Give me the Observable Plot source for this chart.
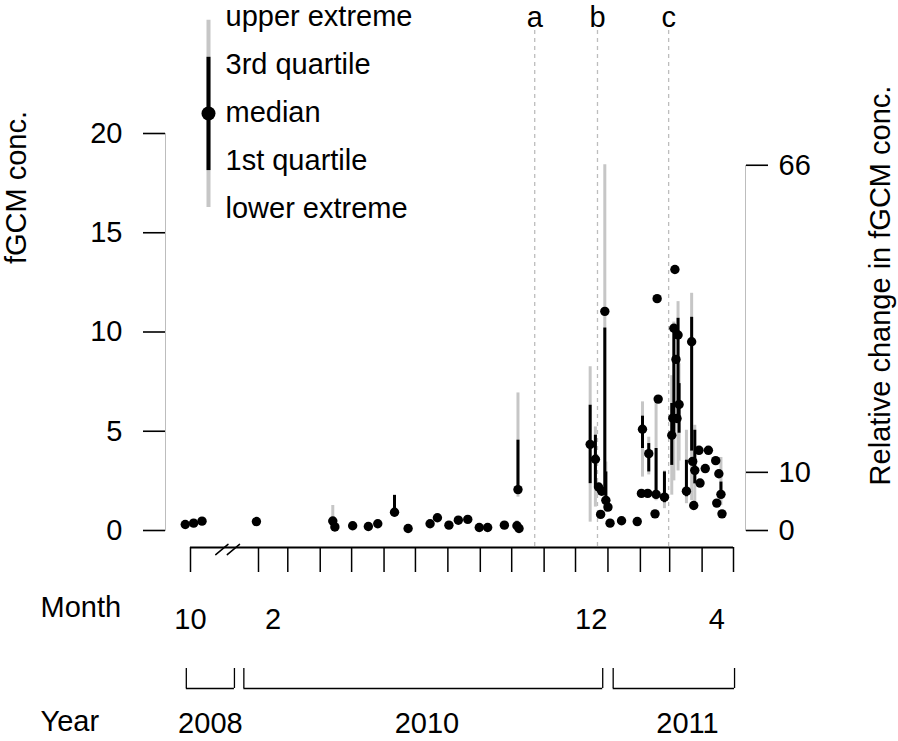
<!DOCTYPE html>
<html>
<head>
<meta charset="utf-8">
<script src="https://cdn.jsdelivr.net/npm/d3@7"></script>
<script src="https://cdn.jsdelivr.net/npm/@observablehq/plot@0.6"></script>
<style>
  html, body { margin: 0; padding: 0; background: #fff; }
  #wrap { position: relative; width: 898px; height: 741px; }
  #legend { position: absolute; left: 190px; top: 0px; }
  svg { font-family: "Liberation Sans", Arial, Helvetica, sans-serif; }
</style>
</head>
<body>
<div id="wrap"><div id="main"></div><div id="legend"></div></div>
<script>
// ---------- data ----------
const sampleDates = [
  "2008-10-10","2008-10-18","2008-10-26","2010-01-30","2010-04-13","2010-04-15","2010-05-02","2010-05-17",
  "2010-05-26","2010-06-11","2010-06-24","2010-07-15","2010-07-22","2010-08-02","2010-08-11","2010-08-20",
  "2010-08-31","2010-09-08","2010-09-24","2010-10-06","2010-10-07","2010-10-08","2010-12-15","2010-12-20",
  "2010-12-23","2010-12-25","2010-12-26","2010-12-29","2010-12-30","2011-01-01","2011-01-03","2011-01-14",
  "2011-01-29","2011-02-02","2011-02-03","2011-02-08","2011-02-09","2011-02-15","2011-02-16","2011-02-17",
  "2011-02-18","2011-02-24","2011-03-03","2011-03-04","2011-03-05","2011-03-06","2011-03-07","2011-03-08",
  "2011-03-09","2011-03-10","2011-03-17","2011-03-22","2011-03-23","2011-03-24","2011-03-25","2011-03-29",
  "2011-03-30","2011-04-04","2011-04-07","2011-04-14","2011-04-15","2011-04-17","2011-04-19","2011-04-20"
];
const medians = [
  0.30,0.37,0.47,0.45,0.48,0.18,0.24,0.20,
  0.34,0.92,0.10,0.34,0.64,0.27,0.52,0.56,
  0.15,0.15,0.27,0.24,2.06,0.10,4.34,3.59,
  2.19,0.81,1.98,11.04,1.52,1.18,0.37,0.49,
  0.45,1.87,5.10,1.87,3.87,0.84,1.82,11.68,
  6.62,1.68,4.80,5.66,10.19,13.15,8.62,5.64,
  9.85,6.35,1.98,9.51,3.48,1.26,3.03,4.04,
  2.39,3.12,4.04,3.52,1.38,2.86,1.82,0.84
];
const firstQuartiles = [
  null,null,null,null,null,null,null,null,
  null,0.80,null,null,null,null,null,null,
  null,null,null,null,1.90,null,2.36,2.19,
  null,null,null,1.85,1.20,null,null,null,
  null,null,4.13,null,2.95,null,1.60,null,
  null,1.40,3.28,null,4.90,null,null,null,
  5.50,4.90,1.70,4.00,null,null,2.35,null,
  null,null,null,null,null,null,1.77,null
];
const thirdQuartiles = [
  null,null,null,null,null,null,null,null,
  null,1.77,null,null,null,null,null,null,
  null,null,null,null,4.55,null,6.31,4.80,
  null,null,null,10.20,2.95,null,null,null,
  null,null,5.76,null,4.38,null,4.13,null,
  null,2.95,6.40,null,10.19,null,null,null,
  10.69,7.40,3.54,10.74,null,null,5.05,null,
  null,null,null,null,null,null,2.44,null
];
const lowerExtremes = [
  null,null,null,null,null,null,null,null,
  null,0.67,null,null,null,null,null,null,
  null,null,null,null,1.68,null,0.42,1.18,
  null,null,null,1.30,0.90,null,null,null,
  null,null,2.69,null,2.80,null,1.50,null,
  null,1.10,1.78,null,2.50,null,null,null,
  3.00,3.50,1.35,1.50,null,null,1.30,null,
  null,null,null,null,null,null,1.25,null
];
const upperExtremes = [
  null,null,null,null,1.26,null,null,null,
  null,1.77,null,null,null,null,null,null,
  null,null,null,0.50,6.93,null,8.25,5.22,
  null,null,null,18.43,3.45,null,null,null,
  null,null,6.48,null,4.70,null,6.48,null,
  null,3.00,7.80,null,10.50,null,null,null,
  11.53,8.40,5.05,11.95,null,null,5.30,null,
  null,null,null,null,null,null,3.68,null
];

const leftTicks = [0, 5, 10, 15, 20];
const rightTickLabels = [0, 10, 66];
const rightTickConc = [0, 2.93, 18.4];     // where those labels sit on the fGCM scale

const eventLabels = ["a", "b", "c"];
const eventDates = ["2010-10-23", "2010-12-22", "2011-02-28"];

const monthTickDates = ["2008-10-15","2010-02-01","2010-03-01","2010-04-01","2010-05-01","2010-06-01","2010-07-01",
  "2010-08-01","2010-09-01","2010-10-01","2010-11-01","2010-12-01","2011-01-01","2011-02-01","2011-03-01",
  "2011-04-01","2011-05-01"];
const monthLabelTexts = ["10", "2", "12", "4"];
const monthLabelDates = ["2008-10-15", "2010-02-15", "2010-12-16", "2011-04-15"];
const breakMarkDates = ["2008-11-14", "2008-11-25"];

const yearNames = ["2008", "2010", "2011"];
const yearStarts = ["2008-10-11", "2010-01-18", "2011-01-06"];
const yearEnds = ["2008-11-26", "2010-12-27", "2011-05-02"];
const yearLabelDates = ["2008-11-03", "2010-07-12", "2011-03-18"];

const legendLabels = ["upper extreme", "3rd quartile", "median", "1st quartile", "lower extreme"];

// ---------- axis position (2008 segment joined to 2010 with a break) ----------
function pos(s) {
  const t = Date.parse(s + "T00:00:00Z");
  if (t < Date.UTC(2009, 5, 1)) return (t - Date.UTC(2008, 9, 15)) / 864e5 - 65;
  return (t - Date.UTC(2010, 1, 1)) / 864e5;
}

const rows = sampleDates.map((d, i) => ({
  x: pos(d), med: medians[i], q1: firstQuartiles[i], q3: thirdQuartiles[i],
  lo: lowerExtremes[i], hi: upperExtremes[i]
}));
const extRows = rows.filter(r => r.hi != null || r.lo != null);
const iqrRows = rows.filter(r => r.q1 != null && r.q3 != null);

const rightMap = new Map(rightTickConc.map((c, i) => [c, String(rightTickLabels[i])]));
const grayWhisker = "#c6c6c6";
const lineGray = "#bdbdbd";
const font = "'Liberation Sans', Arial, Helvetica, sans-serif";
const fs = "29px";

const slash = {draw(ctx, l) { ctx.moveTo(0, 0); ctx.lineTo(0, -l); }};
const mid = {textAnchor: "middle", lineAnchor: "middle"};

const chart = Plot.plot({
  width: 898, height: 741,
  marginTop: 133, marginBottom: 211, marginLeft: 165, marginRight: 153,
  style: {fontSize: fs, fontFamily: font, color: "#000", background: "#fff"},
  x: {type: "linear", domain: [0, 454], range: [258, 733]},
  y: {domain: [0, 20]},
  marks: [
    // axis lines
    Plot.frame({anchor: "left", stroke: lineGray}),
    Plot.frame({anchor: "right", stroke: lineGray, insetTop: 32}),
    Plot.axisY({anchor: "left", ticks: leftTicks, tickSize: 22, tickPadding: 21, strokeWidth: 1.6, label: null}),
    Plot.axisY({anchor: "right", ticks: rightTickConc, tickFormat: d => rightMap.get(d), tickSize: 22, tickPadding: 11, strokeWidth: 1.6, label: null}),
    Plot.text(["fGCM conc."], {frameAnchor: "top-left", dx: -149, dy: 54, rotate: -90, ...mid}),
    Plot.text(["Relative change in fGCM conc."], {frameAnchor: "top-right", dx: 135, dy: 152, rotate: -90, ...mid}),

    // event lines
    Plot.ruleX(eventDates, {x: d => pos(d), stroke: lineGray, strokeDasharray: "4,4", strokeWidth: 1.3, insetTop: -103, insetBottom: -17}),
    Plot.text(eventLabels, {x: (d, i) => pos(eventDates[i]), text: d => d, frameAnchor: "top", dy: -116, ...mid}),

    // data: extremes, quartiles, medians
    Plot.ruleX(extRows, {x: "x", y1: r => r.lo ?? r.med, y2: r => r.hi ?? r.med, stroke: grayWhisker, strokeWidth: 3}),
    Plot.ruleX(iqrRows, {x: "x", y1: "q1", y2: "q3", stroke: "#000", strokeWidth: 3}),
    Plot.dot(rows, {x: "x", y: "med", r: 4.7, fill: "#000", stroke: null}),

    // month axis
    Plot.ruleY([0], {x1: pos(monthTickDates[0]), x2: pos(monthTickDates[monthTickDates.length - 1]), dy: 17, strokeWidth: 1.8}),
    Plot.axisX({ticks: monthTickDates.map(pos), tickSize: 25, dy: 17, tickFormat: () => "", strokeWidth: 1.5, label: null}),
    Plot.vector(breakMarkDates, {x: d => pos(d), frameAnchor: "bottom", dy: 19, length: 16, rotate: 50, anchor: "middle", shape: slash, stroke: "#000", strokeWidth: 1.5}),
    Plot.text(monthLabelTexts, {x: (d, i) => pos(monthLabelDates[i]), text: d => d, frameAnchor: "bottom", dy: 89, ...mid}),
    Plot.text(["Month"], {frameAnchor: "bottom-left", dx: -125, dy: 77, textAnchor: "start", lineAnchor: "middle"}),

    // year brackets
    Plot.ruleY(yearNames, {x1: (d, i) => pos(yearStarts[i]), x2: (d, i) => pos(yearEnds[i]), y: () => 0, dy: 158, strokeWidth: 1.3}),
    Plot.axisX({ticks: yearStarts.concat(yearEnds).map(pos), tickSize: 20, dy: 138, tickFormat: () => "", strokeWidth: 1.3, label: null}),
    Plot.text(yearNames, {x: (d, i) => pos(yearLabelDates[i]), text: d => d, frameAnchor: "bottom", dy: 193, ...mid}),
    Plot.text(["Year"], {frameAnchor: "bottom-left", dx: -125, dy: 191, textAnchor: "start", lineAnchor: "middle"})
  ]
});
document.getElementById("main").append(chart);

// ---------- legend ----------
const legend = Plot.plot({
  width: 250, height: 225, margin: 0,
  style: {fontSize: fs, fontFamily: font, color: "#000", background: "transparent"},
  x: {domain: [0, 1], range: [18, 240], axis: null},
  y: {domain: [0, 4], range: [208, 16], axis: null},
  marks: [
    Plot.ruleX([0], {x: 0, y1: 0.02, y2: 3.92, stroke: grayWhisker, strokeWidth: 4}),
    Plot.ruleX([0], {x: 0, y1: 0.79, y2: 3.15, stroke: "#000", strokeWidth: 4}),
    Plot.dot([0], {x: 0, y: 1.98, r: 7, fill: "#000", stroke: null}),
    Plot.text(legendLabels, {x: 0, y: (d, i) => 4 - i, text: d => d, dx: 17, textAnchor: "start", lineAnchor: "middle"})
  ]
});
document.getElementById("legend").append(legend);
</script>
</body>
</html>
